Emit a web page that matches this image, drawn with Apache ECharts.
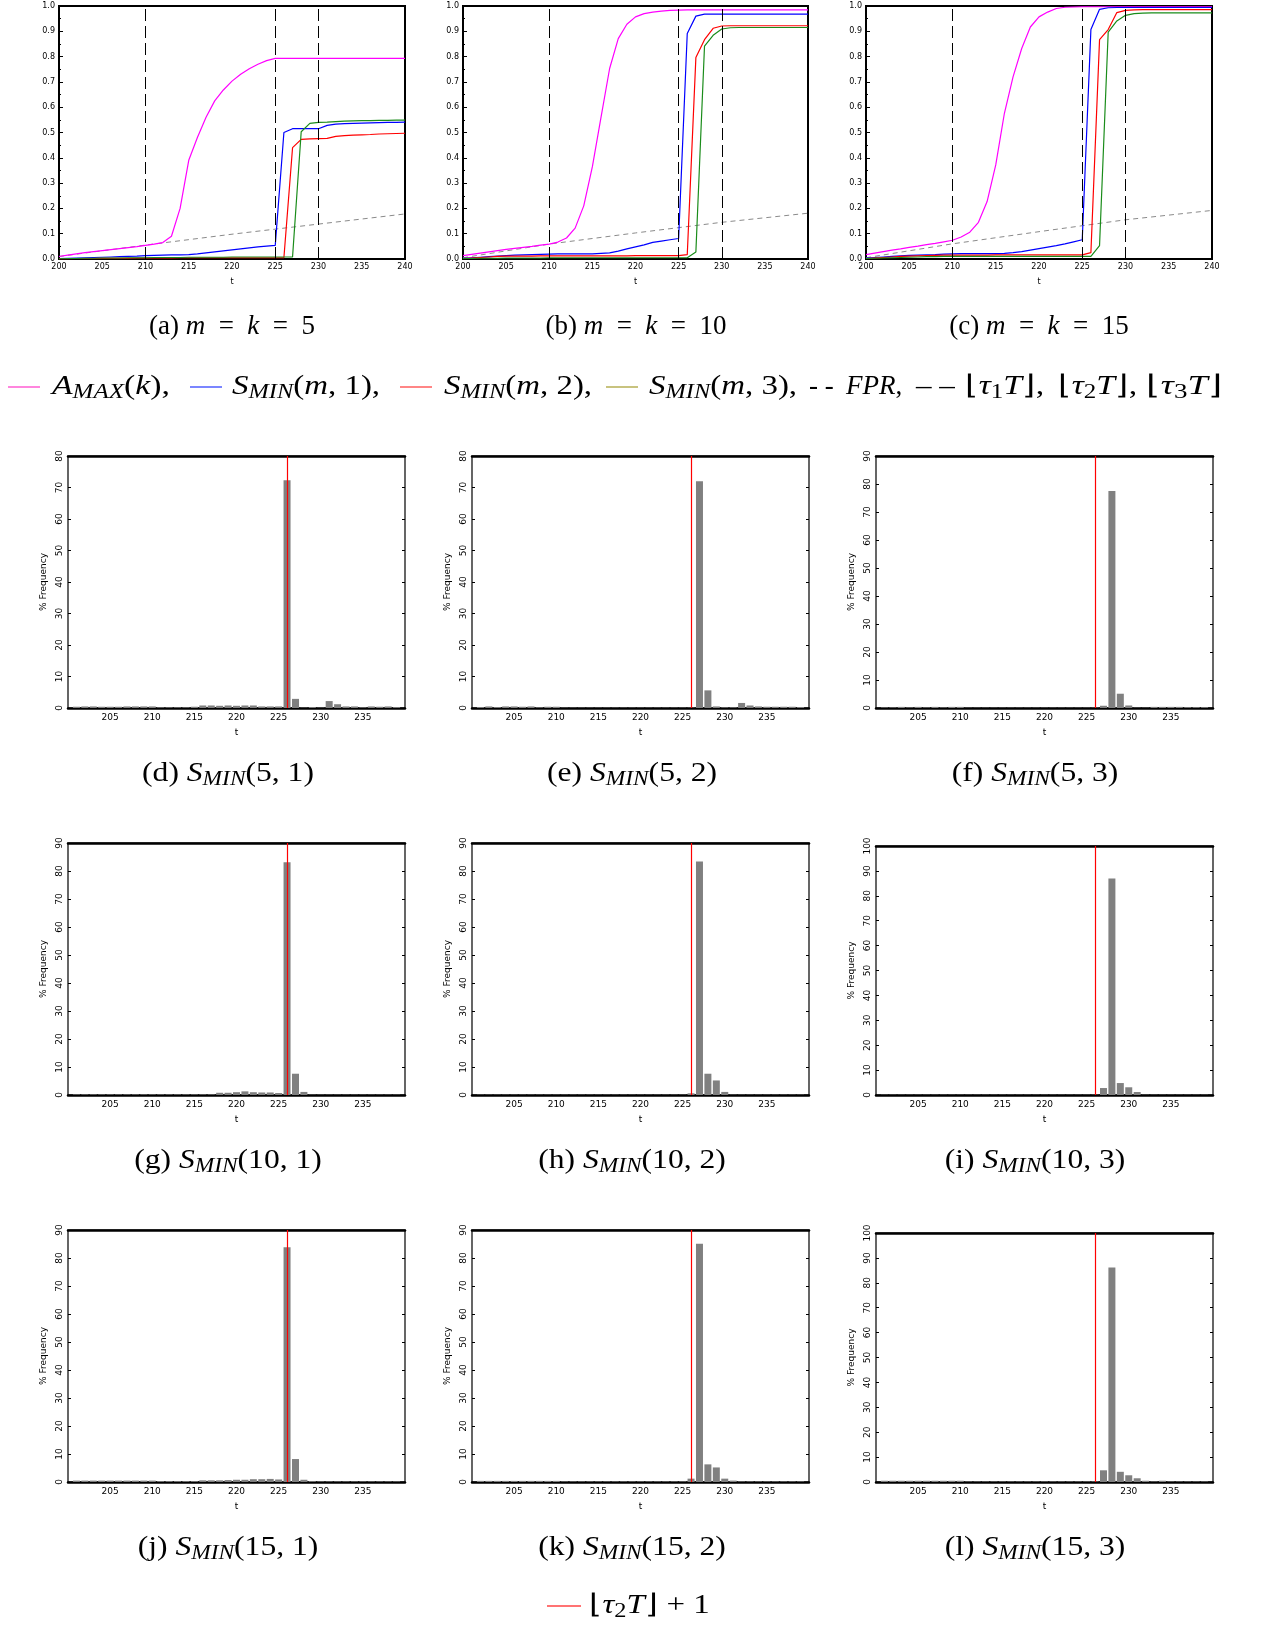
<!DOCTYPE html>
<html><head><meta charset="utf-8">
<script src="https://cdn.jsdelivr.net/npm/echarts@6/dist/echarts.min.js"></script>
<style>html,body{margin:0;padding:0;background:#fff}#c{width:1270px;height:1628px}</style>
</head><body><div id="c"></div>
<script>
// ---------- data ----------
const tTop = [200,201,202,203,204,205,206,207,208,209,210,211,212,213,214,215,216,217,218,219,220,221,222,223,224,225,226,227,228,229,230,231,232,233,234,235,236,237,238,239,240];
const fprT = [200,210,220,230,240];
const vLines = [210,225,230];

const aMax5 = [0.010,0.015,0.020,0.025,0.029,0.033,0.037,0.041,0.045,0.049,0.054,0.059,0.065,0.090,0.200,0.390,0.480,0.560,0.625,0.668,0.703,0.730,0.752,0.770,0.784,0.793,0.793,0.793,0.793,0.793,0.793,0.793,0.793,0.793,0.793,0.793,0.793,0.793,0.793,0.793,0.793];
const sMin5_1 = [0.002,0.003,0.004,0.005,0.006,0.007,0.008,0.009,0.010,0.011,0.013,0.014,0.015,0.016,0.016,0.017,0.020,0.024,0.028,0.032,0.036,0.040,0.044,0.048,0.051,0.054,0.500,0.515,0.515,0.515,0.515,0.528,0.533,0.535,0.536,0.537,0.538,0.539,0.540,0.540,0.541];
const sMin5_2 = [0.001,0.001,0.002,0.002,0.002,0.003,0.003,0.003,0.003,0.004,0.004,0.004,0.004,0.004,0.005,0.005,0.005,0.005,0.005,0.005,0.005,0.005,0.005,0.005,0.005,0.005,0.005,0.440,0.473,0.475,0.476,0.477,0.485,0.488,0.490,0.491,0.492,0.494,0.495,0.496,0.497];
const sMin5_3 = [0.001,0.002,0.002,0.003,0.003,0.004,0.004,0.004,0.005,0.005,0.005,0.006,0.006,0.006,0.006,0.007,0.007,0.007,0.007,0.007,0.008,0.008,0.008,0.008,0.008,0.008,0.008,0.008,0.503,0.536,0.540,0.541,0.543,0.545,0.546,0.547,0.547,0.548,0.548,0.549,0.549];
const fpr5 = [0.010,0.055,0.098,0.138,0.178];

const aMax10 = [0.013,0.018,0.023,0.028,0.033,0.038,0.042,0.046,0.050,0.055,0.059,0.067,0.083,0.122,0.210,0.365,0.560,0.753,0.871,0.928,0.957,0.970,0.976,0.980,0.983,0.984,0.985,0.985,0.985,0.985,0.985,0.985,0.985,0.985,0.985,0.985,0.985,0.985,0.985,0.985,0.985];
const sMin10_1 = [0.003,0.005,0.007,0.009,0.011,0.013,0.015,0.016,0.017,0.018,0.019,0.020,0.020,0.020,0.020,0.020,0.022,0.024,0.031,0.040,0.048,0.056,0.066,0.071,0.076,0.081,0.891,0.960,0.968,0.968,0.968,0.968,0.968,0.968,0.968,0.968,0.968,0.968,0.968,0.968,0.968];
const sMin10_2 = [0.002,0.004,0.006,0.008,0.010,0.011,0.011,0.011,0.011,0.012,0.012,0.012,0.012,0.012,0.012,0.012,0.012,0.012,0.012,0.012,0.013,0.013,0.013,0.013,0.013,0.013,0.017,0.796,0.867,0.912,0.921,0.922,0.922,0.922,0.922,0.922,0.922,0.922,0.922,0.922,0.922];
const sMin10_3 = [0.002,0.002,0.003,0.003,0.003,0.004,0.004,0.004,0.004,0.004,0.005,0.005,0.005,0.005,0.005,0.005,0.005,0.005,0.005,0.005,0.005,0.005,0.005,0.005,0.005,0.005,0.005,0.028,0.841,0.884,0.909,0.914,0.915,0.915,0.915,0.915,0.915,0.915,0.915,0.915,0.915];
const fpr10 = [0.005,0.059,0.103,0.145,0.181];

const aMax15 = [0.017,0.023,0.029,0.035,0.040,0.046,0.051,0.057,0.062,0.068,0.074,0.087,0.106,0.145,0.227,0.372,0.576,0.720,0.832,0.917,0.957,0.976,0.990,0.995,0.996,0.997,0.997,0.997,0.997,0.997,0.997,0.997,0.997,0.997,0.997,0.997,0.997,0.997,0.997,0.997,0.997];
const sMin15_1 = [0.004,0.006,0.008,0.010,0.012,0.014,0.015,0.016,0.017,0.019,0.020,0.021,0.021,0.021,0.021,0.021,0.022,0.025,0.029,0.035,0.041,0.047,0.053,0.060,0.068,0.076,0.907,0.987,0.993,0.994,0.994,0.994,0.994,0.994,0.994,0.994,0.994,0.994,0.994,0.994,0.994];
const sMin15_2 = [0.002,0.004,0.006,0.008,0.010,0.011,0.012,0.013,0.014,0.015,0.015,0.015,0.015,0.015,0.015,0.016,0.016,0.016,0.016,0.016,0.016,0.016,0.016,0.016,0.016,0.016,0.025,0.867,0.907,0.974,0.983,0.985,0.986,0.986,0.986,0.986,0.986,0.986,0.986,0.986,0.986];
const sMin15_3 = [0.002,0.003,0.004,0.005,0.006,0.007,0.008,0.009,0.009,0.010,0.010,0.010,0.010,0.010,0.010,0.010,0.010,0.010,0.010,0.010,0.010,0.010,0.010,0.010,0.010,0.010,0.010,0.053,0.897,0.941,0.963,0.970,0.972,0.973,0.973,0.973,0.973,0.973,0.973,0.973,0.973];
const fpr15 = [0.005,0.060,0.108,0.155,0.192];

const tHist = [201,202,203,204,205,206,207,208,209,210,211,212,213,214,215,216,217,218,219,220,221,222,223,224,225,226,227,228,229,230,231,232,233,234,235,236,237,238,239];
const xTickLabels = [205,210,215,220,225,230,235];
const changePoint = 226;

const hist5_1 = [0.4,0.5,0.5,0.4,0.4,0.4,0.5,0.5,0.5,0.5,0.2,0.2,0.2,0.2,0.4,0.8,0.8,0.7,0.8,0.7,0.8,0.8,0.5,0.5,0.5,72.3,2.9,0.1,0.3,0.1,2.2,1.2,0.5,0.5,0.2,0.5,0.4,0.5,0.3];
const hist5_2 = [0.3,0.5,0.3,0.5,0.5,0.4,0.5,0.2,0.4,0.4,0.1,0.1,0.1,0.1,0.1,0.1,0.1,0.1,0.1,0.1,0.1,0.1,0.1,0.1,0.1,0.1,72.0,5.6,0.5,0.2,0.2,1.6,0.8,0.5,0.4,0.4,0.4,0.4,0.3];
const hist5_3 = [0.2,0.2,0.4,0.2,0.4,0.2,0.4,0.2,0.4,0.4,0.1,0.1,0.1,0.1,0.1,0.1,0.1,0.1,0.1,0.1,0.1,0.1,0.1,0.1,0.1,0.1,0.8,77.5,5.1,0.9,0.1,0.1,0.4,0.4,0.4,0.4,0.3,0.3,0.3];
const hist10_1 = [0.2,0.2,0.2,0.2,0.2,0.2,0.2,0.2,0.2,0.2,0.2,0.2,0.2,0.2,0.2,0.2,0.2,0.8,0.8,1.0,1.3,1.0,0.9,0.9,0.7,83.1,7.6,1.1,0.1,0.1,0.1,0.1,0.1,0.1,0.1,0.1,0.1,0.1,0.1];
const hist10_2 = [0.1,0.1,0.1,0.1,0.1,0.1,0.1,0.1,0.1,0.1,0.1,0.1,0.1,0.1,0.1,0.1,0.1,0.1,0.1,0.1,0.1,0.1,0.1,0.1,0.1,0.6,83.4,7.6,5.2,1.1,0.1,0.1,0.1,0.1,0.1,0.1,0.1,0.1,0.1];
const hist10_3 = [0.1,0.1,0.1,0.1,0.1,0.1,0.1,0.1,0.1,0.1,0.1,0.1,0.1,0.1,0.1,0.1,0.1,0.1,0.1,0.1,0.1,0.1,0.1,0.1,0.1,0.1,2.8,86.9,4.8,3.1,1.2,0.1,0.1,0.1,0.1,0.1,0.1,0.1,0.1];
const hist15_1 = [0.5,0.5,0.5,0.5,0.5,0.5,0.5,0.5,0.5,0.5,0.3,0.3,0.3,0.3,0.3,0.6,0.6,0.6,0.7,0.8,0.8,1.0,1.0,1.1,0.9,83.8,8.2,0.8,0.3,0.2,0.2,0.2,0.2,0.2,0.2,0.2,0.2,0.2,0.2];
const hist15_2 = [0.4,0.4,0.4,0.4,0.4,0.4,0.4,0.4,0.4,0.4,0.2,0.2,0.2,0.2,0.2,0.2,0.2,0.2,0.2,0.2,0.2,0.2,0.2,0.2,0.2,1.2,85.1,6.3,5.2,1.2,0.5,0.2,0.2,0.2,0.2,0.2,0.2,0.2,0.2];
const hist15_3 = [0.5,0.5,0.5,0.5,0.5,0.5,0.5,0.5,0.5,0.5,0.2,0.2,0.2,0.2,0.2,0.2,0.2,0.2,0.2,0.2,0.2,0.2,0.2,0.2,0.2,0.2,4.7,86.1,4.1,2.7,1.5,0.5,0.2,0.5,0.2,0.2,0.2,0.2,0.2];
const histYMax = [80,80,90,90,90,100,90,90,100];

// ---------- layout / styles ----------
const sans = 'DejaVu Sans';
const serif = 'Liberation Serif';
const lineColors = ['#ff00ff','#0000ff','#ff0000','#1a8c1a'];

const grids = [], xAxes = [], yAxes = [], series = [], graphics = [];

const topPanels = [
  {left:59, width:346, lines:[aMax5,sMin5_1,sMin5_2,sMin5_3], fpr:fpr5},
  {left:463, width:345, lines:[aMax10,sMin10_1,sMin10_2,sMin10_3], fpr:fpr10},
  {left:866, width:346, lines:[aMax15,sMin15_1,sMin15_2,sMin15_3], fpr:fpr15}
];
topPanels.forEach(p => {
  grids.push({left:p.left, top:6, width:p.width, height:253, show:true, borderColor:'#000', borderWidth:2, backgroundColor:'transparent'});
  const gi = grids.length - 1;
  xAxes.push({type:'value', gridIndex:gi, min:200, max:240, interval:5,
    axisLine:{show:false}, axisTick:{show:false}, splitLine:{show:false},
    axisLabel:{fontSize:8, fontFamily:sans, color:'#000', margin:4},
    name:'t', nameLocation:'middle', nameGap:19, nameTextStyle:{fontSize:8, fontFamily:sans, color:'#000'}});
  yAxes.push({type:'value', gridIndex:gi, min:0, max:1, interval:0.1,
    axisLine:{show:false}, splitLine:{show:false},
    axisTick:{show:true, inside:true, length:4, lineStyle:{color:'#000'}},
    minorTick:{show:true, splitNumber:2, length:2, lineStyle:{color:'#000'}},
    axisLabel:{fontSize:8, fontFamily:sans, color:'#000', margin:4, formatter:v => v.toFixed(1)}});
  const xi = xAxes.length - 1, yi = yAxes.length - 1;
  series.push({type:'line', xAxisIndex:xi, yAxisIndex:yi, symbol:'none', silent:true,
    data: fprT.map((t,j) => [t, p.fpr[j]]),
    lineStyle:{color:'#8a8a8a', width:1, type:[5,4]},
    markLine:{silent:true, symbol:['none','none'], label:{show:false},
      lineStyle:{color:'#000', width:1, type:[12,5]},
      data: vLines.map(v => ({xAxis:v}))}});
  p.lines.forEach((arr,k) => {
    series.push({type:'line', xAxisIndex:xi, yAxisIndex:yi, symbol:'none', silent:true,
      data: tTop.map((t,j) => [t, arr[j]]),
      lineStyle:{color:lineColors[k], width:1.2}});
  });
});

const histData = [hist5_1,hist5_2,hist5_3,hist10_1,hist10_2,hist10_3,hist15_1,hist15_2,hist15_3];
const colLeft = [68,472,876];
const rowTop = [456,843,1230];
histData.forEach((arr,idx) => {
  const r = Math.floor(idx/3), c = idx % 3;
  let top = rowTop[r], h = 252;
  if (histYMax[idx] === 100) { top += 3; h -= 3; }
  grids.push({left:colLeft[c], top:top, width:337, height:h, show:true, borderColor:'#000', borderWidth:1.2, backgroundColor:'transparent'});
  const gi = grids.length - 1;
  xAxes.push({type:'value', gridIndex:gi, min:200, max:240, interval:5,
    axisLine:{show:true, onZero:false, lineStyle:{color:'#000', width:2.5}}, axisTick:{show:false}, splitLine:{show:false},
    axisLabel:{fontSize:9, fontFamily:sans, color:'#000', margin:5,
      formatter: v => xTickLabels.indexOf(v) >= 0 ? String(v) : ''},
    name:'t', nameLocation:'middle', nameGap:20, nameTextStyle:{fontSize:9, fontFamily:sans, color:'#000'}});
  const xi = xAxes.length - 1;
  xAxes.push({type:'value', gridIndex:gi, position:'top', min:200, max:240, interval:5,
    axisLine:{show:true, onZero:false, lineStyle:{color:'#000', width:2.5}}, axisTick:{show:false}, axisLabel:{show:false}, splitLine:{show:false}});
  yAxes.push({type:'value', gridIndex:gi, min:0, max:histYMax[idx], interval:10,
    axisLine:{show:false}, splitLine:{show:false},
    axisTick:{show:true, inside:true, length:3, lineStyle:{color:'#000'}},
    axisLabel:{fontSize:9, fontFamily:sans, color:'#000', margin:4, rotate:90},
    name:'% Frequency', nameLocation:'middle', nameRotate:90, nameGap:20,
    nameTextStyle:{fontSize:9, fontFamily:sans, color:'#000'}});
  const yi = yAxes.length - 1;
  yAxes.push({type:'value', gridIndex:gi, position:'right', min:0, max:histYMax[idx], interval:10,
    axisLine:{show:false}, splitLine:{show:false}, axisLabel:{show:false},
    axisTick:{show:true, inside:true, length:3, lineStyle:{color:'#000'}}});
  series.push({type:'bar', xAxisIndex:xi, yAxisIndex:yi, silent:true, barWidth:7,
    data: tHist.map((t,j) => [t, arr[j]]),
    itemStyle:{color:'#808080'},
    markLine:{silent:true, symbol:['none','none'], label:{show:false},
      lineStyle:{color:'#ff0000', width:1.2, type:'solid'},
      data:[{xAxis:changePoint}]}});
});

// ---------- text (captions / legends) ----------
const rich = {
  n:{fontFamily:serif, fontSize:27, lineHeight:32, color:'#000'},
  i:{fontFamily:serif, fontSize:27, fontStyle:'italic', lineHeight:32, color:'#000'},
  s:{fontFamily:serif, fontSize:20, fontStyle:'italic', lineHeight:20, verticalAlign:'bottom', color:'#000'},
  d:{fontFamily:serif, fontSize:20, lineHeight:20, verticalAlign:'bottom', color:'#000'},
  g:{fontFamily:serif, fontSize:27, lineHeight:32, color:'#666'}
};
function txt(x, y, text, align, sx) {
  graphics.push({type:'text', x:x, y:y, silent:true, scaleX: sx || 1,
    style:{text:text, rich:rich, align:align || 'left', verticalAlign:'middle', fill:'#000'}});
}
function seg(x1, x2, y, color) {
  graphics.push({type:'line', silent:true, shape:{x1:x1, y1:y, x2:x2, y2:y}, style:{stroke:color, lineWidth:1.3}});
}
const colCenter = [232,636,1039];
const eq = '{n|\u2002=\u2002}';
txt(colCenter[0], 327, '{n|(a) }{i|m}' + eq + '{i|k}' + eq.replace('}', '5}'), 'center');
txt(colCenter[1], 327, '{n|(b) }{i|m}' + eq + '{i|k}' + eq.replace('}', '10}'), 'center');
txt(colCenter[2], 327, '{n|(c) }{i|m}' + eq + '{i|k}' + eq.replace('}', '15}'), 'center');

const ly = 387;
seg(8, 40, ly, '#ff44cc');   txt(52, ly, '{i|A}{s|MAX}{n|(}{i|k}{n|),}', 'left', 1.25);
seg(190, 222, ly, '#3344ff'); txt(232, ly, '{i|S}{s|MIN}{n|(}{i|m}{n|, 1),}', 'left', 1.22);
seg(400, 432, ly, '#ff4444'); txt(444, ly, '{i|S}{s|MIN}{n|(}{i|m}{n|, 2),}', 'left', 1.22);
seg(606, 638, ly, '#aaa23a'); txt(649, ly, '{i|S}{s|MIN}{n|(}{i|m}{n|, 3),}', 'left', 1.22);
txt(809, ly, '{g|- -}');
txt(846, ly, '{i|FPR}{n|,}', 'left', 1.0);
txt(916, ly, '{n|\u2013 \u2013}', 'left', 1.15);
txt(965, ly, '{n|\u230A}{i|\u03C4}{d|1}{i|T}{n|\u230B,}', 'left', 1.25);
txt(1058, ly, '{n|\u230A}{i|\u03C4}{d|2}{i|T}{n|\u230B,}', 'left', 1.25);
txt(1146, ly, '{n|\u230A}{i|\u03C4}{d|3}{i|T}{n|\u230B}', 'left', 1.35);

const letters = ['d','e','f','g','h','i','j','k','l'];
const mVals = [5,10,15];
const capY = [774,1161,1548];
letters.forEach((L, idx) => {
  const r = Math.floor(idx/3), c = idx % 3;
  txt(colCenter[c] - 4, capY[r], '{n|(' + L + ') }{i|S}{s|MIN}{n|(' + mVals[r] + ', ' + (c+1) + ')}', 'center', 1.17);
});
seg(547, 581, 1606, '#ff4444');
txt(589, 1606, '{n|\u230A}{i|\u03C4}{d|2}{i|T}{n|\u230B + 1}', 'left', 1.22);

const chart = echarts.init(document.getElementById('c'), null, {renderer:'canvas'});
chart.setOption({
  animation:false,
  backgroundColor:'#fff',
  grid:grids, xAxis:xAxes, yAxis:yAxes, series:series,
  graphic:graphics
});
</script></body></html>
